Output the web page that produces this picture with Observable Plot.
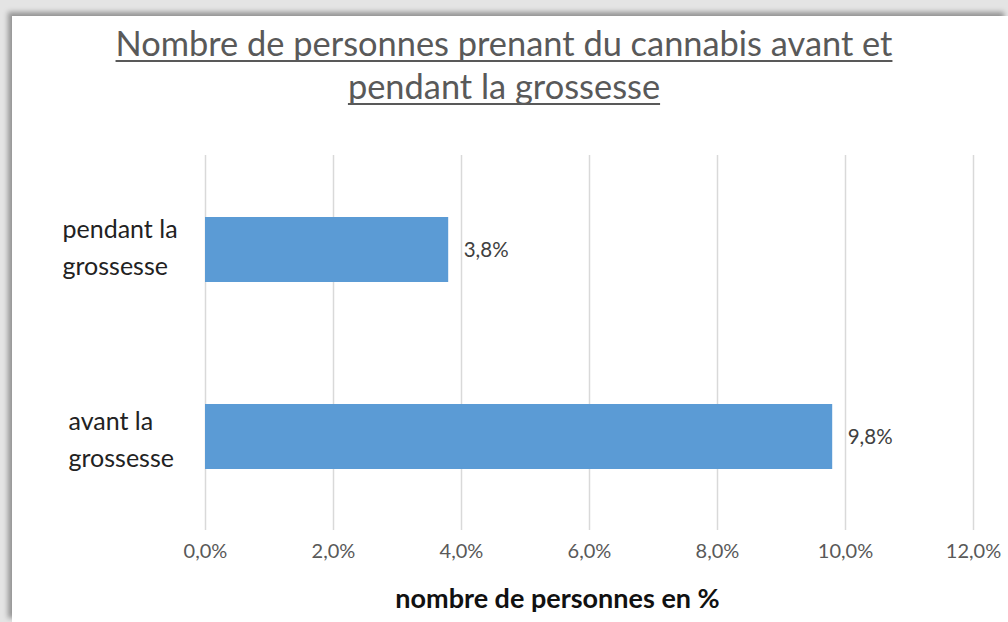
<!DOCTYPE html>
<html><head><meta charset="utf-8">
<script src="https://cdn.jsdelivr.net/npm/d3@7"></script>
<script src="https://cdn.jsdelivr.net/npm/@observablehq/plot@0.6"></script>
<style>
html,body{margin:0;padding:0;background:#fff;}
#page{position:relative;width:1008px;height:622px;overflow:hidden;background:#e4e4e4;font-family:Lato,"Open Sans",sans-serif;}
#panel{position:absolute;left:12px;top:16px;right:0;bottom:0;background:#fff;box-shadow:-4px -4px 5px rgba(0,0,0,0.35);}
#title{position:absolute;left:0;top:21px;width:1008px;text-align:center;font-size:34.4px;line-height:43px;color:#595959;text-decoration:underline;text-decoration-thickness:2px;text-underline-offset:4px;text-decoration-skip-ink:none;}
#chart{position:absolute;left:0;top:120px;}
</style></head>
<body>
<div id="page">
<div id="panel"></div>
<div id="title">Nombre de personnes prenant du cannabis avant et<br>pendant la grossesse</div>
<div id="chart"></div>
</div>
<script>
const categories = ["pendant la\ngrossesse", "avant la\ngrossesse"];
const values = [0.038, 0.098];
const tickValues = [0, 0.02, 0.04, 0.06, 0.08, 0.10, 0.12];
const xLabel = "nombre de personnes en %";

const data = categories.map((c, i) => ({cat: c, v: values[i]}));
const fmt = d => (d * 100).toFixed(1).replace(".", ",") + "%";

const chart = Plot.plot({
  width: 1008,
  height: 502,
  marginTop: 35,
  marginBottom: 92,
  marginLeft: 205,
  marginRight: 35,
  style: {background: "transparent", fontFamily: "Lato, 'Open Sans', sans-serif"},
  x: {domain: [0, 0.12], ticks: tickValues, tickFormat: fmt},
  y: {domain: categories, padding: 0, axis: null},
  marks: [
    Plot.gridX(tickValues, {stroke: "#d9d9d9", strokeOpacity: 1, strokeWidth: 1.5}),
    Plot.barX(data, {x: "v", y: "cat", fill: "#5b9bd5", insetTop: 61, insetBottom: 61}),
    Plot.text(data, {x: "v", y: "cat", text: d => fmt(d.v), textAnchor: "start", dx: 15, fontSize: 20.5, fill: "#404040"}),
    Plot.text(data.filter(d => !d.cat.startsWith("avant")), {y: "cat", text: "cat", frameAnchor: "left", textAnchor: "start", dx: -143, dy: -5, fontSize: 25, fill: "#222", lineHeight: 1.45}),
    Plot.text(data.filter(d => d.cat.startsWith("avant")), {y: "cat", text: "cat", frameAnchor: "left", textAnchor: "start", dx: -137, fontSize: 25, fill: "#222", lineHeight: 1.45}),
    Plot.axisX({ticks: tickValues, tickFormat: fmt, tickSize: 0, tickPadding: 13, fontSize: 20, color: "#595959", label: null}),
    Plot.text([xLabel], {frameAnchor: "bottom", text: d => d, dx: -32, dy: 77, fontSize: 27, fontWeight: "bold", fill: "#111"})
  ]
});
document.getElementById("chart").appendChild(chart);
</script>
</body></html>
